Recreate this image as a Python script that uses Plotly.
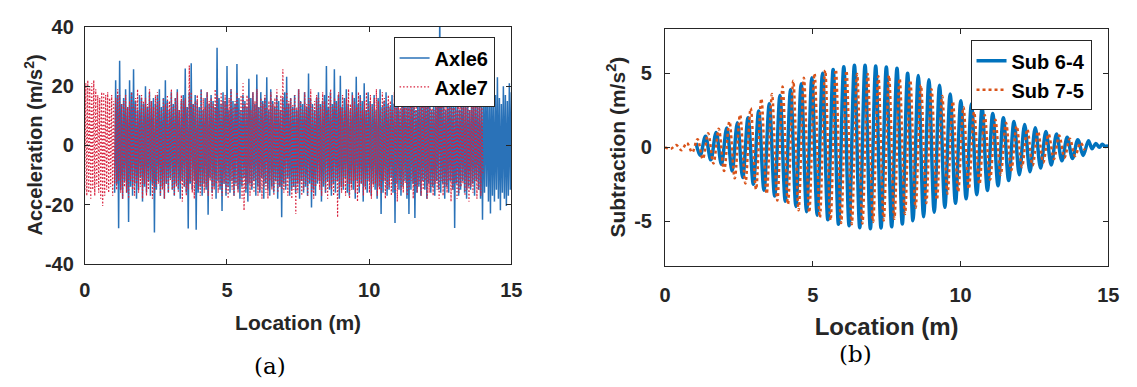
import numpy as np
import plotly.graph_objects as go

# ---------------- Panel (a): acceleration signals ----------------
AXLE6_START, AXLE6_END = 1.05, 15.0
AXLE6 = [
    -16, 22, -13, 17, -28, 28.6, -15, 14, -18, 16, -12, 19, -16, 13, -25.9, 22, -14, 18, -17, 25.7,
    -13, 15, -18, 12, -15, 17, -11, 16, -19, 14, -14, 20, -16, 13, -12, 18, -17, 15, -13, 16,
    -29.4, 14, -15, 17, -12, 19, -17, 13, -14, 16, -18, 22, -13, 15, -16, 12, -11, 18, -15, 14,
    -17, 16, -13, 19, -15, 12, -18, 15, -12, 17, -14, 26, -16, 13, -28.1, 18, -13, 27.8, -15, 14,
    -12, 17, -28.5, 15, -16, 13, -14, 19, -17, 12, -13, 16, -15, 18, -23.4, 14, -11, 17, -16, 15,
    -14, 13, -18, 33, -12, 16, -15, 14, -22.2, 18, -13, 15, -17, 26.8, -14, 12, -16, 19, -12, 15,
    -17, 14, -13, 27.5, -15, 16, -18, 12, -14, 17, -11, 15, -16, 13, -19, 22.5, -13, 16, -15, 18,
    -12, 14, -17, 24, -14, 13, -16, 18, -11, 15, -18, 16, -13, 23, -15, 12, -17, 19, -14, 15,
    -16, 13, -12, 17, -18, 15, -14, 12, -24.3, 16, -13, 18, -15, 23.2, -11, 14, -17, 16, -15, 13,
    -14, 17, -16, 12, -13, 19, -18, 15, -12, 14, -16, 18, -14, 13, -17, 24.3, -13, 16, -21, 14,
    -15, 12, -17, 16, -13, 18, -12, 14, -19, 15, -14, 17, -16, 26.8, -12, 13, -15, 18, -17, 14,
    -13, 25.7, -16, 15, -12, 17, -18, 23.5, -14, 13, -15, 16, -11, 19, -16, 14, -17, 12, -13, 18,
    -15, 16, -18, 23.2, -12, 14, -16, 17, -13, 15, -19, 21, -14, 12, -16, 18, -12, 15, -17, 14,
    -13, 17, -15, 12, -18, 16, -14, 19, -23.2, 13, -16, 15, -12, 18, -17, 14, -15, 13, -11, 17,
    -16, 14, -26.2, 16, -13, 18, -15, 12, -17, 15, -14, 19, -12, 13, -18, 16, -23.2, 14, -15, 17,
    -13, 15, -24.5, 12, -16, 18, -14, 14, -17, 16, -12, 13, -15, 19, -18, 15, -13, 17, -16, 12,
    -14, 16, -17, 13, -12, 18, -15, 45, -16, 14, -13, 17, -18, 12, -14, 15, -16, 19, -12, 13,
    -15, 17, -27.9, 14, -13, 16, -17, 12, -15, 18, -12, 15, -16, 13, -18, 17, -14, 12, -15, 16,
    -13, 18, -17, 14, -12, 16, -15, 13, -18, 15, -25.1, 17, -16, 21, -14, 18, -19, 16, -23, 22,
    -17, 15, -19, 17, -15, 23, -18, 16, -21.9, 14, -16, 20, -18, 17, -20.5, 15, -17, 21, -15, 18,
]

AXLE7_START, AXLE7_END = 0.0, 14.0
AXLE7 = [
    -15, 21, -17, 22, -16, 20, -18, 21, -15, 22, -17, 19, -14, 17, -16, 16, -18, 18, -20.5, 18,
    -17, 17, -15, 18, -16, 16, -14, 17, -17, 15, -13, 16, -15, 19, -12, 17, -16, 14, -18, 15,
    -14, 17, -16, 13, -18, 15, -12, 18, -15, 14, -17, 16, -13, 19, -16, 12, -14, 17, -18, 15,
    -13, 16, -17, 14, -15, 19, -12, 15, -18, 13, -16, 17, -14, 18, -13, 15, -17, 12, -15, 16,
    -18, 14, -13, 17, -16, 15, -12, 19, -15, 13, -17, 16, -14, 18, -16, 12, -13, 17, -19, 15,
    -14, 16, -17, 13, -15, 27, -12, 18, -16, 14, -18, 15, -13, 17, -15, 12, -17, 19, -14, 16,
    -16, 13, -14, 18, -17, 15, -12, 16, -18, 14, -15, 19, -13, 17, -16, 12, -14, 18, -17, 15,
    -13, 17, -16, 14, -18, 16, -12, 19, -15, 13, -17, 15, -14, 18, -16, 12, -13, 17, -18, 21,
    -22, 14, -15, 17, -13, 16, -17, 12, -14, 18, -16, 15, -12, 19, -17, 13, -15, 16, -18, 14,
    -14, 17, -16, 13, -18, 15, -12, 18, -15, 14, -17, 16, -13, 19, -16, 12, -14, 17, -15, 25.7,
    -16, 13, -14, 18, -17, 15, -12, 16, -18, 14, -15, 17, -23.2, 13, -16, 19, -13, 15, -17, 12,
    -15, 18, -13, 14, -17, 16, -12, 19, -16, 13, -18, 15, -14, 17, -12, 16, -15, 13, -17, 18,
    -13, 15, -16, 12, -18, 17, -14, 19, -15, 13, -17, 16, -12, 14, -24.3, 18, -15, 13, -16, 17,
    -14, 12, -17, 16, -13, 19, -18, 14, -15, 17, -12, 15, -16, 13, -19, 18, -14, 16, -13, 12,
    -17, 15, -15, 18, -12, 14, -16, 17, -18, 13, -14, 16, -13, 19, -17, 15, -15, 12, -16, 18,
    -12, 16, -18, 13, -15, 17, -14, 15, -17, 12, -13, 18, -16, 14, -19, 16, -12, 17, -15, 13,
    -16, 14, -13, 17, -17, 15, -15, 19, -12, 13, -18, 16, -14, 18, -16, 12, -13, 15, -17, 17,
    -15, 13, -12, 16, -18, 14, -16, 18, -14, 15, -17, 12, -13, 19, -15, 16, -18, 14, -12, 17,
    -17, 15, -14, 13, -16, 18, -12, 16, -19, 14, -15, 17, -13, 12, -18, 15, -16, 19, -14, 13,
    -13, 17, -17, 14, -15, 16, -19, 12, -14, 18, -16, 15, -12, 17, -18, 13, -15, 16, -17, 14,
    -10,
]

# ---------------- Panel (b): subtraction signals (extrema) ----------------
SUB64_X = [1.05, 1.19, 1.37, 1.55, 1.73, 1.91, 2.09, 2.27, 2.45, 2.63, 2.81, 2.99,
           3.17, 3.35, 3.53, 3.71, 3.89, 4.07, 4.25, 4.43, 4.61, 4.79, 4.97, 5.15,
           5.33, 5.51, 5.69, 5.87, 6.05, 6.23, 6.41, 6.59, 6.77, 6.95, 7.13, 7.31,
           7.49, 7.67, 7.85, 8.03, 8.21, 8.39, 8.57, 8.75, 8.93, 9.11, 9.29, 9.47,
           9.65, 9.83, 10.01, 10.19, 10.37, 10.55, 10.73, 10.91, 11.09, 11.27, 11.45,
           11.63, 11.81, 11.99, 12.17, 12.35, 12.53, 12.71, 12.89, 13.07, 13.25, 13.43,
           13.61, 13.79, 13.97, 14.15, 14.33, 14.45, 14.58, 14.70, 14.80, 14.90, 15.0]
SUB64_Y = [0.3, -0.55, 0.75, -0.85, 1.0, -1.15, 1.3, -1.6, 1.65, -2.05, 2.0, -2.5,
           2.45, -2.9, 2.95, -3.3, 3.5, -3.65, 3.9, -4.0, 4.3, -4.35, 4.7, -4.6,
           5.0, -4.9, 5.25, -5.2, 5.45, -5.3, 5.55, -5.44, 5.55, -5.5, 5.49, -5.45,
           5.43, -5.37, 5.34, -5.18, 5.0, -4.96, 4.85, -4.69, 4.57, -4.39, 4.2, -4.06,
           3.6, -3.79, 3.15, -3.48, 2.93, -3.2, 2.65, -2.92, 2.29, -2.6, 2.0,
           -2.25, 1.75, -1.86, 1.54, -1.65, 1.32, -1.4, 1.07, -1.19, 0.9, -0.91,
           0.68, -0.76, 0.51, -0.55, 0.45, -0.1, 0.25, 0.0, 0.2, 0.05, 0.12]

SUB75_X = [0.0, 0.20, 0.38, 0.56, 0.74, 0.92, 1.10, 1.28, 1.46, 1.64, 1.82, 2.00,
           2.18, 2.36, 2.54, 2.72, 2.90, 3.08, 3.26, 3.44, 3.62, 3.80, 3.98, 4.16,
           4.34, 4.52, 4.70, 4.88, 5.06, 5.24, 5.42, 5.60, 5.78, 5.96, 6.14, 6.32,
           6.50, 6.68, 6.86, 7.04, 7.22, 7.40, 7.58, 7.76, 7.94, 8.12, 8.30, 8.48,
           8.66, 8.84, 9.02, 9.20, 9.38, 9.56, 9.74, 9.92, 10.10, 10.28, 10.46, 10.64,
           10.82, 11.00, 11.18, 11.36, 11.54, 11.72, 11.90, 12.08, 12.26, 12.44, 12.62,
           12.80, 12.98, 13.16, 13.34, 13.52, 13.70, 13.88, 14.06, 14.20]
SUB75_Y = [0.0, -0.1, 0.15, -0.2, 0.3, -0.35, 0.55, -0.8, 0.95, -1.1, 1.25, -1.6,
           1.75, -2.1, 2.2, -2.45, 2.65, -2.85, 3.3, -3.15, 3.6, -3.6, 4.1, -3.85,
           4.5, -4.25, 4.7, -4.4, 5.0, -4.75, 5.2, -4.95, 5.25, -5.12, 5.17, -5.2,
           4.95, -5.15, 4.96, -5.05, 4.8, -4.94, 4.85, -4.83, 4.64, -4.51, 4.53, -4.09,
           4.2, -3.77, 3.93, -3.56, 3.46, -3.14, 3.1, -3.0, 2.71, -2.82, 2.39, -2.5,
           2.18, -2.2, 1.86, -1.86, 1.65, -1.55, 1.43, -1.33, 1.22, -1.23, 1.07,
           -1.02, 0.9, -0.8, 0.79, -0.7, 0.58, -0.59, 0.3, -0.2]

X_TICKS = [0, 5, 10, 15]
X_TICK_LABELS = ["0", "5", "10", "15"]
A_Y_TICKS = [-40, -20, 0, 20, 40]
A_Y_TICK_LABELS = ["-40", "-20", "0", "20", "40"]
B_Y_TICKS = [-5, 0, 5]
B_Y_TICK_LABELS = ["-5", "0", "5"]

W, H = 1137, 387
FONT = "Liberation Sans, Arial, sans-serif"
AX_COL = "#262626"

axle6_x = np.linspace(AXLE6_START, AXLE6_END, len(AXLE6))
axle7_x = np.linspace(AXLE7_START, AXLE7_END, len(AXLE7))

fig = go.Figure()
fig.add_trace(go.Scatter(x=axle6_x, y=AXLE6, mode="lines", name="Axle6",
                         line=dict(color="#2A72B8", width=1.5), xaxis="x", yaxis="y",
                         legend="legend"))
fig.add_trace(go.Scatter(x=axle7_x, y=AXLE7, mode="lines", name="Axle7",
                         line=dict(color="#D8203C", width=1.2, dash="1.5px,2px"), xaxis="x", yaxis="y",
                         legend="legend"))
fig.add_trace(go.Scatter(x=SUB64_X, y=SUB64_Y, mode="lines", name="Sub 6-4",
                         line=dict(color="#0072BD", width=3.5, shape="spline", smoothing=1),
                         xaxis="x2", yaxis="y2", legend="legend2"))
fig.add_trace(go.Scatter(x=SUB75_X, y=SUB75_Y, mode="lines", name="Sub 7-5",
                         line=dict(color="#D95319", width=2.5, dash="3px,3px", shape="spline", smoothing=1),
                         xaxis="x2", yaxis="y2", legend="legend2"))


def px_x(a, b):
    return [a / W, b / W]


def px_y(top, bottom):
    return [1 - bottom / H, 1 - top / H]


axis_common = dict(showline=True, linecolor=AX_COL, linewidth=1, mirror="ticks",
                   ticks="inside", ticklen=5, tickcolor=AX_COL, showgrid=False,
                   zeroline=False, tickmode="array",
                   tickfont=dict(family=FONT, size=20, color=AX_COL, weight="bold"))

fig.update_layout(
    width=W, height=H, margin=dict(l=0, r=0, t=0, b=0),
    paper_bgcolor="white", plot_bgcolor="white",
    xaxis=dict(domain=px_x(80, 513), range=[0, 15], tickvals=X_TICKS, ticktext=X_TICK_LABELS,
               anchor="y", ticklabelstandoff=8,
               title=dict(text="Location (m)", standoff=15,
                          font=dict(family=FONT, size=21, color=AX_COL, weight="bold")),
               **axis_common),
    yaxis=dict(domain=px_y(17, 268), range=[-40, 40], tickvals=A_Y_TICKS, ticktext=A_Y_TICK_LABELS,
               anchor="x", ticklabelstandoff=6, **axis_common),
    xaxis2=dict(domain=px_x(669, 1119), range=[0, 15], tickvals=X_TICKS, ticktext=X_TICK_LABELS,
                anchor="y2", ticklabelstandoff=11,
                title=dict(text="Location (m)", standoff=13,
                           font=dict(family=FONT, size=24, color=AX_COL, weight="bold")),
                **axis_common),
    yaxis2=dict(domain=px_y(19, 270), range=[-8, 8], tickvals=B_Y_TICKS, ticktext=B_Y_TICK_LABELS,
                anchor="x2", ticklabelstandoff=8, **axis_common),
    legend=dict(x=496 / W, y=1 - 28 / H, xanchor="right", yanchor="top",
                bgcolor="white", bordercolor=AX_COL, borderwidth=1,
                font=dict(family=FONT, size=20, color="black", weight="bold"),
                tracegroupgap=0),
    legend2=dict(x=1102 / W, y=1 - 31 / H, xanchor="right", yanchor="top",
                 bgcolor="white", bordercolor=AX_COL, borderwidth=1,
                 font=dict(family=FONT, size=20, color="black", weight="bold"),
                 tracegroupgap=0),
    showlegend=True,
)

# y-axis titles as rotated text
fig.add_annotation(text="Acceleration (m/s<sup>2</sup>)", x=28 / W, y=1 - 142 / H,
                   xref="paper", yref="paper", textangle=-90, showarrow=False,
                   xanchor="center", yanchor="middle",
                   font=dict(family=FONT, size=20, color=AX_COL, weight="bold"))
fig.add_annotation(text="Subtraction (m/s<sup>2</sup>)", x=619 / W, y=1 - 144 / H,
                   xref="paper", yref="paper", textangle=-90, showarrow=False,
                   xanchor="center", yanchor="middle",
                   font=dict(family=FONT, size=21, color=AX_COL, weight="bold"))

fig.add_annotation(text="(a)", x=268 / W, y=1 - 376 / H, xref="paper", yref="paper",
                   xanchor="center", yanchor="middle", showarrow=False,
                   font=dict(family="DejaVu Serif, serif", size=23, color="black"))
fig.add_annotation(text="(b)", x=862 / W, y=1 - 364 / H, xref="paper", yref="paper",
                   xanchor="center", yanchor="middle", showarrow=False,
                   font=dict(family="DejaVu Serif, serif", size=23, color="black"))

fig.write_html("out.html")
